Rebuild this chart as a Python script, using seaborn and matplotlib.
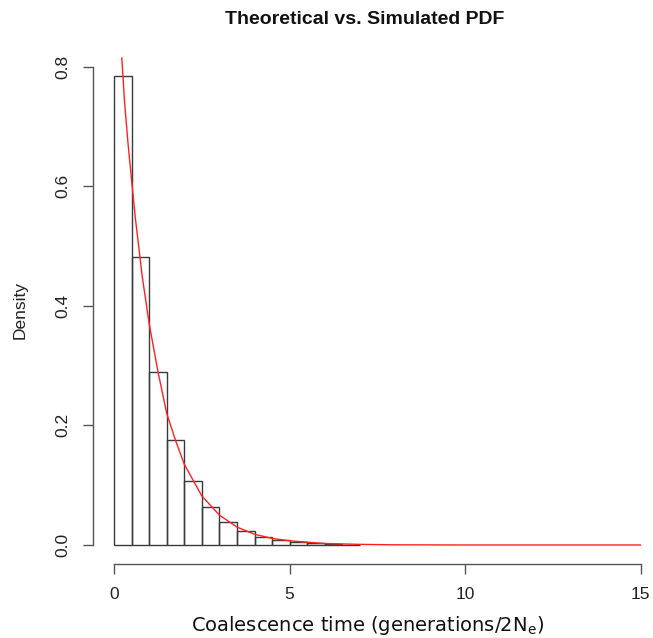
import matplotlib
matplotlib.use("Agg")
import matplotlib.pyplot as plt
import seaborn as sns
import pandas as pd

# ---- data ----
bin_edges = [0.0, 0.5, 1.0, 1.5, 2.0, 2.5, 3.0, 3.5, 4.0, 4.5, 5.0, 5.5, 6.0, 6.5, 7.0]
density = [0.784, 0.482, 0.290, 0.175, 0.107, 0.064, 0.039, 0.0234, 0.0139,
           0.0084, 0.0045, 0.0028, 0.0015, 0.0008]
curve_x = [0.22, 0.3, 0.4, 0.5, 0.6, 0.7, 0.8, 0.9, 1.0, 1.25, 1.5, 1.75, 2.0,
           2.5, 3.0, 3.5, 4.0, 4.5, 5.0, 6.0, 7.0, 8.0, 10.0, 15.0]
curve_y = [0.815, 0.74, 0.67, 0.61, 0.55, 0.50, 0.45, 0.41, 0.37, 0.29, 0.22,
           0.175, 0.135, 0.082, 0.050, 0.030, 0.018, 0.011, 0.007, 0.0025,
           0.001, 0.0003, 0.0, 0.0]
x_ticks = [0, 5, 10, 15]
x_tick_labels = ["0", "5", "10", "15"]
y_ticks = [0.0, 0.2, 0.4, 0.6, 0.8]
y_tick_labels = ["0.0", "0.2", "0.4", "0.6", "0.8"]
title = "Theoretical vs. Simulated PDF"
x_label = "Coalescence time (generations/2N$_\\mathregular{e}$)"
y_label = "Density"

sns.set_style("white")
plt.rcParams["font.family"] = ["Liberation Sans", "DejaVu Sans"]

W, H = 653, 638
fig = plt.figure(figsize=(W / 100, H / 100), dpi=100)
ax = fig.add_axes([93 / W, 74 / H, (661.8 - 93) / W, (564 - 38.6) / H])

mids = [(a + b) / 2 for a, b in zip(bin_edges[:-1], bin_edges[1:])]
hist_df = pd.DataFrame({"t": mids, "d": density})
sns.histplot(data=hist_df, x="t", weights="d", bins=bin_edges, stat="count",
             fill=False, color="#3a3a3a", linewidth=1.0, ax=ax)

curve_df = pd.DataFrame({"x": curve_x, "y": curve_y})
sns.lineplot(data=curve_df, x="x", y="y", color="#ff2020", linewidth=1.0, ax=ax)

ax.set_xlim(-0.6, 15.6)
ax.set_ylim(-0.0318, 0.847)
for s in ["top", "right"]:
    ax.spines[s].set_visible(False)
for s in ["left", "bottom"]:
    ax.spines[s].set_color("#555555")
    ax.spines[s].set_linewidth(1.0)
ax.spines["left"].set_bounds(0, 0.8)
ax.spines["bottom"].set_bounds(0, 15)

ax.set_xticks(x_ticks)
ax.set_xticklabels(x_tick_labels)
ax.set_yticks(y_ticks)
ax.set_yticklabels(y_tick_labels, rotation=90, va="center")
ax.tick_params(bottom=True, left=True, direction="out", length=7.5, width=1.0,
               color="#555555", pad=9, labelsize=12.5, labelcolor="#222222")
ax.set_xlabel("")
ax.set_ylabel("")

fig.text(364.5 / W, 1 - 24 / H, title, ha="center", va="baseline",
         fontsize=14, fontweight="bold", color="#111111")
fig.text(367.7 / W, 1 - 630.7 / H, x_label, ha="center", va="baseline",
         fontsize=14, family=["DejaVu Sans"], color="#111111")
fig.text(20 / W, 1 - 310 / H, y_label, ha="center", va="center",
         rotation=90, fontsize=12.5, color="#222222")

fig.savefig("out.png", dpi=100)
